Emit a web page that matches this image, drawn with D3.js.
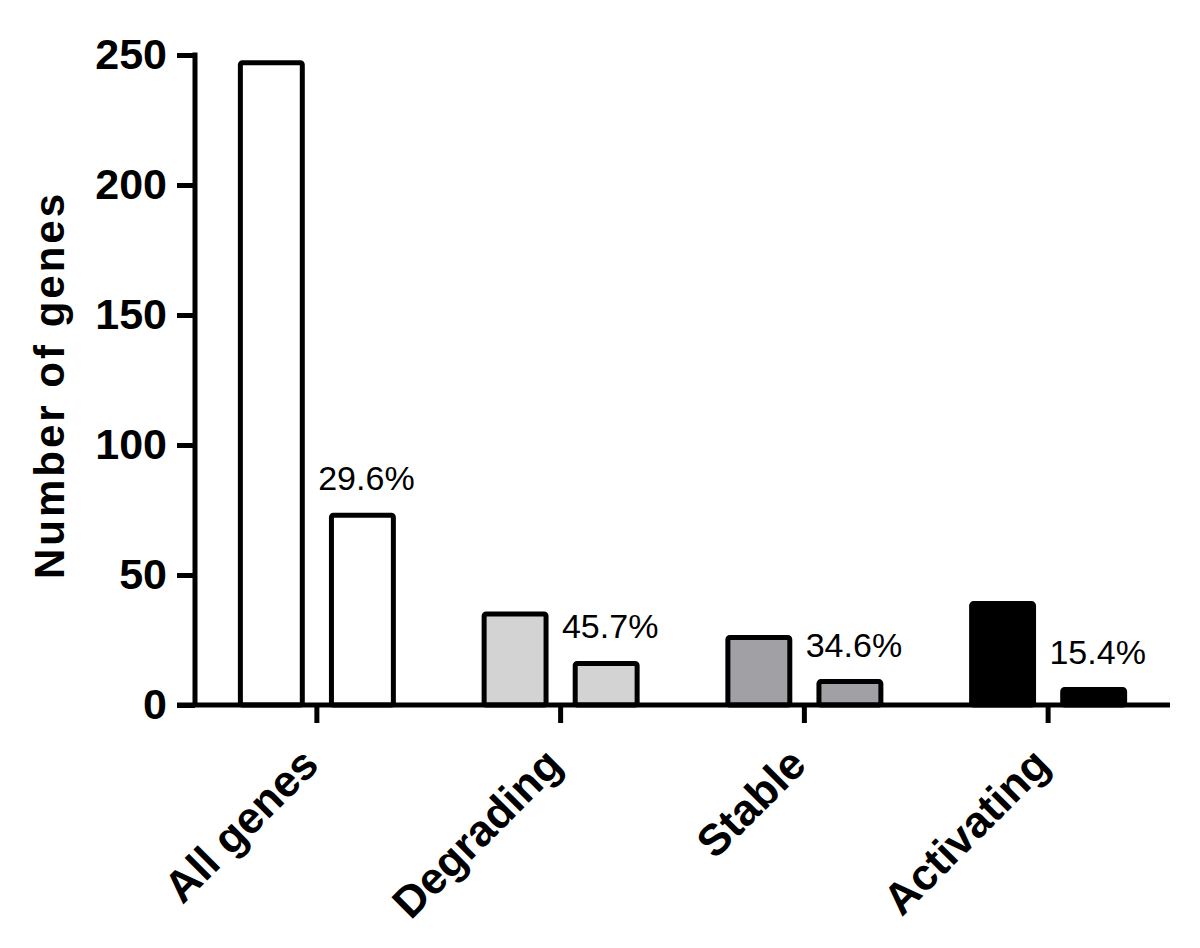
<!DOCTYPE html>
<html>
<head>
<meta charset="utf-8">
<script src="https://cdn.jsdelivr.net/npm/d3@7"></script>
<style>
  body { margin: 0; background: #fff; }
  text { font-family: Arial, "Liberation Sans", sans-serif; fill: #000; }
</style>
</head>
<body>
<svg id="chart" width="1200" height="948"></svg>
<script>
// values
var categories = ["All genes", "Degrading", "Stable", "Activating"];
var series = ["total", "subset"];
var totalCounts = [247, 35, 26, 39];
var subsetCounts = [73, 16, 9, 6];
var percentLabels = ["29.6%", "45.7%", "34.6%", "15.4%"];
var fills = ["#ffffff", "#d3d3d3", "#a1a1a5", "#000000"];
var yTicks = [0, 50, 100, 150, 200, 250];

var svg = d3.select("#chart");

var x = d3.scaleBand()
  .domain(categories)
  .range([195, 1170])
  .padding(0);

var y = d3.scaleLinear()
  .domain([0, 250])
  .range([705, 55]);

// two bars inside each group, placed around the group centre
var x1 = d3.scaleBand()
  .domain(series)
  .range([-76.5, 76.5])
  .paddingInner(0.32);

// y axis
var yAxis = svg.append("g")
  .attr("transform", "translate(195,0)")
  .call(d3.axisLeft(y).tickValues(yTicks).tickSize(18).tickPadding(10).tickSizeOuter(0));
yAxis.select(".domain").remove();
yAxis.selectAll(".tick line").attr("stroke", "#000").attr("stroke-width", 5);
yAxis.selectAll(".tick text")
  .style("font-size", "43px")
  .style("font-weight", "bold");

svg.append("line")
  .attr("x1", 195).attr("x2", 195)
  .attr("y1", y(250) - 2.5).attr("y2", y(0))
  .attr("stroke", "#000").attr("stroke-width", 5);

// bars
var groups = svg.append("g").selectAll("g")
  .data(categories)
  .join("g")
  .attr("transform", function(d) { return "translate(" + (x(d) + x.bandwidth() / 2) + ",0)"; });

groups.each(function(cat, i) {
  var vals = [totalCounts[i], subsetCounts[i]];
  d3.select(this).selectAll("rect")
    .data(series)
    .join("rect")
    .attr("x", function(s) { return x1(s); })
    .attr("width", x1.bandwidth())
    .attr("y", function(s, j) { return y(vals[j]); })
    .attr("height", function(s, j) { return y(0) - y(vals[j]); })
    .attr("rx", 2)
    .attr("fill", fills[i])
    .attr("stroke", "#000")
    .attr("stroke-width", 5);

  d3.select(this).append("text")
    .attr("x", x1("subset") + x1.bandwidth() / 2 + 4)
    .attr("y", y(subsetCounts[i]) - 25)
    .attr("text-anchor", "middle")
    .style("font-size", "34px")
    .text(percentLabels[i]);
});

// x axis
var xAxis = svg.append("g")
  .attr("transform", "translate(0,705)")
  .call(d3.axisBottom(x).tickSize(18).tickSizeOuter(0).tickFormat(""));
xAxis.select(".domain").remove();
xAxis.selectAll(".tick line").attr("stroke", "#000").attr("stroke-width", 5);

svg.append("line")
  .attr("x1", 177).attr("x2", 1170)
  .attr("y1", y(0)).attr("y2", y(0))
  .attr("stroke", "#000").attr("stroke-width", 5);

// rotated category labels
svg.append("g").selectAll("text")
  .data(categories)
  .join("text")
  .attr("transform", function(d) {
    return "translate(" + (x(d) + x.bandwidth() / 2 + 4) + ",767) rotate(-45)";
  })
  .attr("text-anchor", "end")
  .style("font-size", "44px")
  .style("font-weight", "bold")
  .text(function(d) { return d; });

// y title
svg.append("text")
  .attr("transform", "translate(64,385) rotate(-90)")
  .attr("text-anchor", "middle")
  .style("font-size", "42px")
  .style("font-weight", "bold")
  .style("letter-spacing", "3px")
  .text("Number of genes");
</script>
</body>
</html>
